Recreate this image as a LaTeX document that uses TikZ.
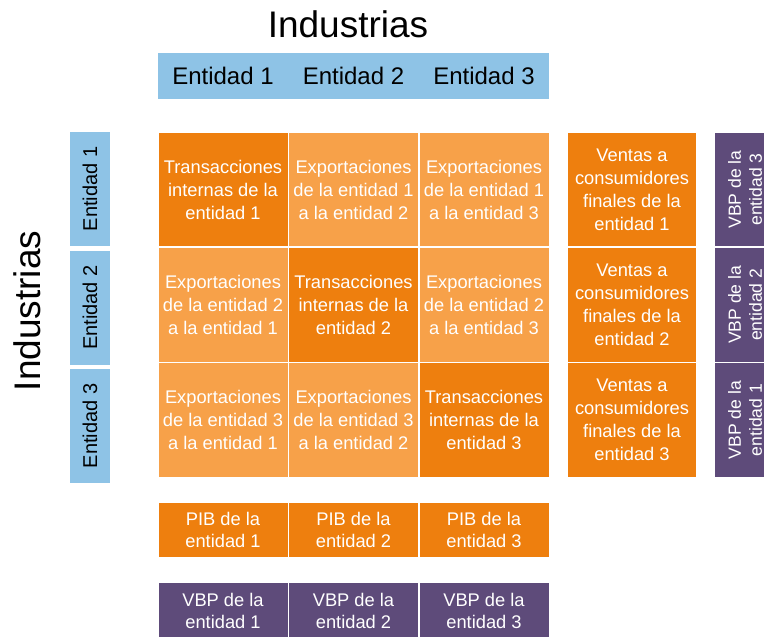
\documentclass[tikz,border=0pt]{standalone}
\usepackage{fontspec}
\setmainfont{Liberation Sans}
\usepackage{tikz}
\definecolor{naranja}{RGB}{238,127,14}
\definecolor{naranjaclaro}{RGB}{247,161,73}
\definecolor{azul}{RGB}{142,195,230}
\definecolor{morado}{RGB}{94,75,122}

\begin{document}
\begin{tikzpicture}[x=1pt,y=-1pt,
    titulo/.style={inner sep=0pt, font=\fontsize{37}{40}\selectfont},
    cabecera/.style={fill=azul, minimum width=130.5pt, minimum height=46pt, inner sep=0pt, font=\fontsize{24}{28}\selectfont},
    lateral/.style={fill=azul, rotate=90, minimum width=114pt, minimum height=40pt, inner sep=0pt, font=\fontsize{20}{24}\selectfont},
    celda/.style={draw=white, line width=1.5pt, minimum width=130.5pt, minimum height=115.25pt, inner sep=0pt, align=center, text=white, font=\fontsize{18.3}{23}\selectfont},
    vbplado/.style={fill=morado, draw=white, line width=1.5pt, rotate=90, minimum width=115.25pt, minimum height=62pt, inner sep=0pt, align=center, text=white, font=\fontsize{17.6}{21}\selectfont},
    pie/.style={draw=white, line width=1.5pt, minimum width=130.5pt, inner sep=0pt, align=center, text=white, font=\fontsize{18.3}{22}\selectfont}]
    \useasboundingbox (0,0) rectangle (764,637);
    \node [titulo, anchor=base] (tituloarriba) at (348,37) {Industrias};
    \node [titulo, rotate=90] (titulolado) at (27.5,311) {Industrias};
    \foreach \c in {1,2,3}
    {
        \node [cabecera] (col\c) at ({223+130.5*(\c-1)},76) {Entidad \c};
        \node [lateral] (fila\c) at (90,{189+118.5*(\c-1)}) {Entidad \c};
        \node [pie, fill=naranja, minimum height=56pt] (pib\c) at ({223+130.5*(\c-1)},530) {PIB de la\\entidad \c};
        \node [pie, fill=morado, minimum height=58pt] (vbp\c) at ({223+130.5*(\c-1)},611) {VBP de la\\entidad \c};
        \node [celda, fill=naranja, minimum width=130pt] (venta\c) at (632,{189.5+115.25*(\c-1)}) {Ventas a\\consumidores\\finales de la\\entidad \c};
    }
    \foreach \r in {1,2,3}
    {
        \foreach \c in {1,2,3}
        {
            \ifnum\r=\c
                \node [celda, fill=naranja] (m\r\c) at ({223+130.5*(\c-1)},{189.5+115.25*(\r-1)}) {Transacciones\\internas de la\\entidad \r};
            \else
                \node [celda, fill=naranjaclaro] (m\r\c) at ({223+130.5*(\c-1)},{189.5+115.25*(\r-1)}) {Exportaciones\\de la entidad \r\\a la entidad \c};
            \fi
        }
    }
    \foreach \r/\e in {1/3,2/2,3/1}
    {
        \node [vbplado] (vbpfila\r) at (745,{189.5+115.25*(\r-1)}) {VBP de la\\entidad \e};
    }
\end{tikzpicture}
\end{document}
